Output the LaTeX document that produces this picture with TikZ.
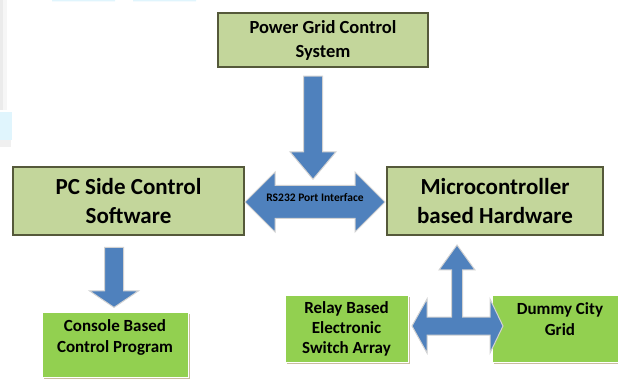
\documentclass[tikz,border=0pt]{standalone}
\usepackage{fontspec}
\setmainfont{Carlito}
\usetikzlibrary{shapes.arrows,shadows}
\definecolor{oliveback}{HTML}{C3D69B}
\definecolor{olivedraw}{HTML}{55593A}
\definecolor{greenback}{HTML}{92D050}
\definecolor{shadowtan}{HTML}{C9BC9F}
\definecolor{arrowblue}{HTML}{4F81BD}
\tikzset{
	oldbox/.style={draw=olivedraw,line width=1.2pt,fill=oliveback,align=center,inner sep=0pt},
	newbox/.style={draw=white,line width=1pt,fill=greenback,inner sep=0pt,
		drop shadow={fill=shadowtan,opacity=1,shadow xshift=1.5pt,shadow yshift=-1.5pt}},
	boxtext/.style={align=center,inner sep=0pt,font=\bfseries\fontsize{17}{21}\selectfont},
	blockarrow/.style={fill=arrowblue,draw=gray!35,line width=1pt},
	downarrow/.style={blockarrow,single arrow,shape border rotate=270,inner sep=9pt}
}
\begin{document}
\begin{tikzpicture}[x=1pt,y=-1pt]
		\useasboundingbox (0,0) rectangle (618,379);
		\clip (0,0) rectangle (618,379);
		% cropped remains at the edges of the screenshot
		\fill[gray!16] (0,0) rectangle (3,110);
		\fill[gray!7] (3,0) rectangle (7,110);
		\fill[cyan!12] (0,112) rectangle (12,140);
		\fill[gray!12] (0,140) rectangle (11,147);
		\fill[cyan!12] (52,0) rectangle (115,1.5) (133,0) rectangle (196,1.5);
		
		\node[oldbox,minimum width=210pt,minimum height=54pt,font=\bfseries\fontsize{18.5}{24}\selectfont] (pgcs) at (323,40) {Power Grid Control\\System};
		\node[oldbox,minimum width=231pt,minimum height=68pt,font=\bfseries\fontsize{23}{29}\selectfont] (pcsw) at (128.5,201) {PC Side Control\\Software};
		\node[oldbox,minimum width=216pt,minimum height=68pt,font=\bfseries\fontsize{23}{29}\selectfont] (mcu) at (495,201) {Microcontroller\\based Hardware};
		
		\node[newbox,minimum width=146pt,minimum height=65pt] (cbcp) at (115,344.5) {};
		\node[boxtext,anchor=north] (cbcptext) at ([yshift=-8pt]cbcp.north) {Console Based\\Control Program};
		\node[newbox,minimum width=123pt,minimum height=67pt,boxtext,font=\bfseries\fontsize{17}{20}\selectfont] (relay) at (346.5,328.5) {Relay Based\\Electronic\\Switch Array};
		\node[newbox,minimum width=136pt,minimum height=67pt] (dummy) at (560,328.5) {};
		\node[boxtext,anchor=north] (dummytext) at ([yshift=-8pt]dummy.north) {Dummy City\\Grid};
		
		% fleches bloc
		\node[downarrow,minimum height=103pt,single arrow head extend=13.5pt,single arrow tip angle=80,anchor=tip] (a1) at (313,180) {};
		\node[downarrow,minimum height=60pt,single arrow head extend=15pt,single arrow tip angle=112,anchor=tip] (a2) at (114,308) {};
		\node[blockarrow,double arrow,minimum height=140pt,double arrow head extend=13.5pt,inner xsep=0pt,inner ysep=8.5pt,text height=7pt,text depth=8pt,font=\bfseries\fontsize{11.5}{11.5}\selectfont] (rs232) at (315,202) {RS232 Port Interface};
		\draw[blockarrow] (412,326) -- (427,299) -- (427,317) -- (451.5,317) -- (451.5,270) -- (439,270) -- (457,245) -- (475,270) -- (462.5,270) -- (462.5,317) -- (490,317) -- (490,299) -- (503,326) -- (490,353) -- (490,335) -- (427,335) -- (427,353) -- cycle; % fleche en T
		
\end{tikzpicture}
\end{document}
